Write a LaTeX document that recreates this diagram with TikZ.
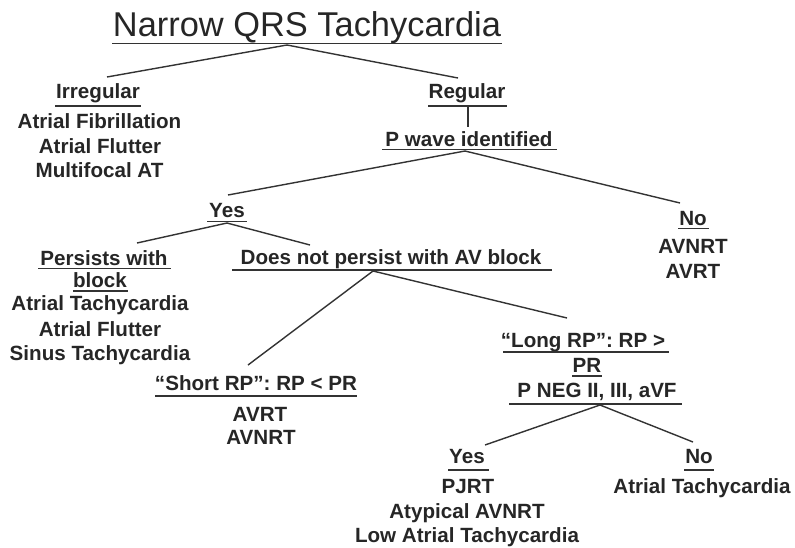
\documentclass[tikz,border=0pt]{standalone}
\usepackage{fontspec}
\setmainfont{Liberation Sans}
\begin{document}
\begin{tikzpicture}[x=1pt,y=-1pt,
  ink/.style={color=black!85},
  txt/.style={ink,anchor=base,inner sep=0pt,font=\fontsize{20.6}{24.5}\selectfont\bfseries},
  ttl/.style={ink,anchor=base,inner sep=0pt,font=\fontsize{34.4}{40}\selectfont},
  rule/.style={draw=black!80,line width=1.5pt},
  branch/.style={draw=black!80,line width=1.4pt}]
\useasboundingbox[fill=white] (0,0) rectangle (795,547);

% title
\node[ttl] (title) at (307,36) {Narrow QRS Tachycardia};
\draw[rule] (112,43.5) -- (502,43.5);
\coordinate (titleU) at (287,45);

% irregular branch
\node[txt] (irr) at (98,98) {Irregular};
\draw[rule] (55,106) -- (141,106);
\coordinate (irrU) at (107,77);
\node[txt] (irr1) at (99.5,128) {Atrial Fibrillation};
\node[txt] (irr2) at (100,153) {Atrial Flutter};
\node[txt] (irr3) at (99.5,177) {Multifocal AT};

% regular branch
\node[txt] (reg) at (467,98) {Regular};
\draw[rule] (428,106) -- (507,106);
\coordinate (regT) at (458,78);
\coordinate (regU) at (468,106);
\node[txt] (pw) at (469,146) {P wave identified};
\draw[rule] (382,149.5) -- (557,149.5);
\coordinate (pwT) at (468,127);
\coordinate (pwU) at (465,151);

% P wave: yes
\node[txt] (yes) at (227,217) {Yes};
\draw[rule] (207,221.5) -- (247,221.5);
\coordinate (yesT) at (228,195);
\coordinate (yesU) at (227,223);

\node[txt] (ps1) at (104,265) {Persists with};
\draw[rule] (38,268.5) -- (171,268.5);
\node[txt] (ps2) at (100,287) {block};
\draw[rule] (73,291) -- (128,291);
\coordinate (psT) at (137,243);
\node[txt] (ps3) at (100,310) {Atrial Tachycardia};
\node[txt] (ps4) at (100,336) {Atrial Flutter};
\node[txt] (ps5) at (100,360) {Sinus Tachycardia};

\node[txt] (dn) at (391,264) {Does not persist with AV block};
\draw[rule] (232,270) -- (552,270);
\coordinate (dnT) at (310,245);
\coordinate (dnU) at (373,271);

\node[txt] (srp) at (256,390) {``Short RP'': RP < PR};
\draw[rule] (155,396) -- (357,396);
\coordinate (srpT) at (248,365);
\node[txt] (srp1) at (260,421) {AVRT};
\node[txt] (srp2) at (261,444) {AVNRT};

\node[txt] (lrp1) at (583,347) {``Long RP'': RP >};
\draw[rule] (503,352) -- (669,352);
\node[txt] (lrp2) at (587,372) {PR};
\draw[rule] (572,376) -- (602,376);
\node[txt] (lrp3) at (597,397) {P NEG II, III, aVF};
\draw[rule] (509,404) -- (682,404);
\coordinate (lrpT) at (567,318);
\coordinate (lrpU) at (600,405);

\node[txt] (yes2) at (467,463) {Yes};
\draw[rule] (448,470) -- (489,470);
\coordinate (yes2T) at (485,445);
\node[txt] (yes2a) at (468,493) {PJRT};
\node[txt] (yes2b) at (467,518) {Atypical AVNRT};
\node[txt] (yes2c) at (467,542) {Low Atrial Tachycardia};

\node[txt] (no2) at (699,463) {No};
\draw[rule] (684,470) -- (714,470);
\coordinate (no2T) at (693,442);
\node[txt] (no2a) at (702,493) {Atrial Tachycardia};

% P wave: no
\node[txt] (no) at (693,225) {No};
\draw[rule] (678,228.5) -- (709,228.5);
\coordinate (noT) at (680,203);
\node[txt] (noa) at (693,253) {AVNRT};
\node[txt] (nob) at (693,278) {AVRT};

% connectors
\draw[branch] (titleU) -- (irrU);
\draw[branch] (titleU) -- (regT);
\draw[branch] (regU) -- (pwT);
\draw[branch] (pwU) -- (yesT);
\draw[branch] (pwU) -- (noT);
\draw[branch] (yesU) -- (psT);
\draw[branch] (yesU) -- (dnT);
\draw[branch] (dnU) -- (srpT);
\draw[branch] (dnU) -- (lrpT);
\draw[branch] (lrpU) -- (yes2T);
\draw[branch] (lrpU) -- (no2T);
\end{tikzpicture}
\end{document}
